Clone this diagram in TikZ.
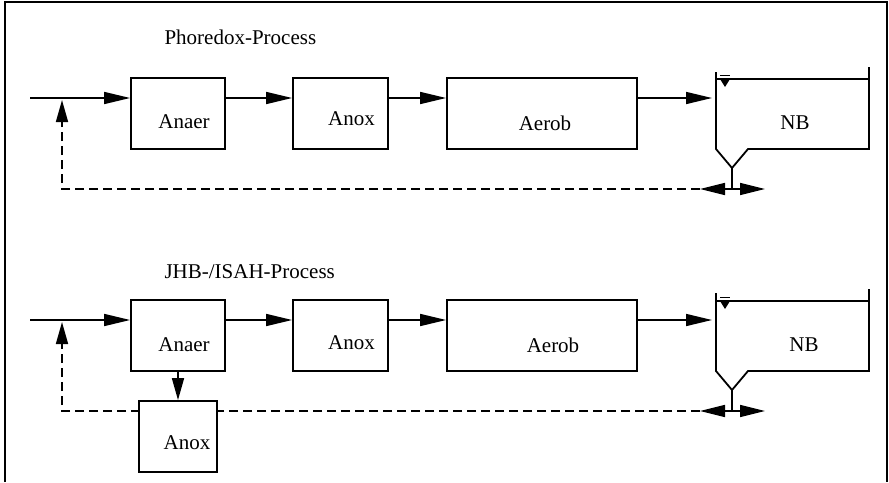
\documentclass[tikz,border=0pt]{standalone}
\usepackage{fontspec}
\setmainfont{Liberation Serif}
\usetikzlibrary{arrows.meta}

\begin{document}
\begin{tikzpicture}[x=1pt,y=-1pt,
  box/.style={draw,line width=1.8pt,minimum height=71pt,inner sep=0pt},
  txt/.style={font=\fontsize{21}{24}\selectfont},
  every label/.style={txt},
  flow/.style={line width=1.6pt,-{Triangle[length=26pt,width=12pt]}},
  back/.style={line width=1.6pt,dash pattern=on 9pt off 5pt},
  wall/.style={line width=1.8pt}]
\useasboundingbox (0,0) rectangle (889,482);
\draw[line width=2pt](5,482)--(5,1.5)--(887,1.5)--(887,482);

% Phoredox line
\node[txt,anchor=west] (titleA) at (161,37) {Phoredox-Process};
\coordinate (inA) at (30,98);
\coordinate (nbinA) at (712,98);
\coordinate (stemA) at (732,189);
\coordinate (outlA) at (700,189);
\coordinate (outrA) at (765,189);
\coordinate (retA) at (62,100);
\node[box,minimum width=94pt,label={[xshift=6pt,yshift=-8.5pt]center:Anaer}] (anaerA) at (178,113.5) {};
\node[box,minimum width=95pt,label={[xshift=11pt,yshift=-5pt]center:Anox}] (anoxA) at (340.5,113.5) {};
\node[box,minimum width=190pt,label={[xshift=3pt,yshift=-10pt]center:Aerob}] (aerobA) at (542,113.5) {};
\node[txt] (nbA) at (795,123) {NB};
\draw[flow](inA)--(inA -| anaerA.west);
\draw[flow](anaerA.east |- inA)--(anoxA.west |- inA);
\draw[flow](anoxA.east |- inA)--(aerobA.west |- inA);
\draw[flow](aerobA.east |- inA)--(nbinA);
% settling tank
\draw[wall](716,72)--(716,149)--(732,168)--(748,149)--(869,149)--(869,67);
\draw[wall](716,79)--(869,79);
\draw[wall](732,168)--(stemA);
\fill(720,79)--(730,79)--(725,87)--cycle;
\draw[line width=1.6pt](720,75.5)--(730,75.5);
\draw[line width=1.6pt,{Triangle[length=25pt,width=12pt]}-{Triangle[length=25pt,width=12pt]}](outlA)--(outrA);
\draw[back,-{Triangle[length=22pt,width=12pt]}](outlA)--(retA |- outlA)--(retA);

% JHB / ISAH line
\node[txt,anchor=west] (titleB) at (161,272) {JHB-/ISAH-Process};
\coordinate (inB) at (30,320);
\coordinate (nbinB) at (712,320);
\coordinate (stemB) at (732,411);
\coordinate (outlB) at (700,411);
\coordinate (outrB) at (765,411);
\coordinate (retB) at (62,322);
\node[box,minimum width=94pt,label={[xshift=6pt,yshift=-9.5pt]center:Anaer}] (anaerB) at (178,335.5) {};
\node[box,minimum width=95pt,label={[xshift=11pt,yshift=-7.5pt]center:Anox}] (anoxB) at (340.5,335.5) {};
\node[box,minimum width=190pt,label={[xshift=11pt,yshift=-9.5pt]center:Aerob}] (aerobB) at (542,335.5) {};
\node[txt] (nbB) at (804,345) {NB};
\draw[flow](inB)--(inB -| anaerB.west);
\draw[flow](anaerB.east |- inB)--(anoxB.west |- inB);
\draw[flow](anoxB.east |- inB)--(aerobB.west |- inB);
\draw[flow](aerobB.east |- inB)--(nbinB);
% settling tank
\draw[wall](716,293)--(716,371)--(732,390)--(748,371)--(869,371)--(869,289);
\draw[wall](716,301)--(869,301);
\draw[wall](732,390)--(stemB);
\fill(720,301)--(730,301)--(725,309)--cycle;
\draw[line width=1.6pt](720,297.5)--(730,297.5);
\draw[line width=1.6pt,{Triangle[length=25pt,width=12pt]}-{Triangle[length=25pt,width=12pt]}](outlB)--(outrB);
\draw[back,-{Triangle[length=22pt,width=12pt]}](outlB)--(retB |- outlB)--(retB);
% extra anoxic tank under the anaerobic one
\node[box,fill=white,minimum width=78pt,label={[xshift=9pt,yshift=-6.5pt]center:Anox}] (anoxC) at (178,436.5) {};
\draw[line width=1.6pt,-{Triangle[length=22pt,width=12pt]}](anaerB.south)--(anoxC.north);
\end{tikzpicture}
\end{document}
